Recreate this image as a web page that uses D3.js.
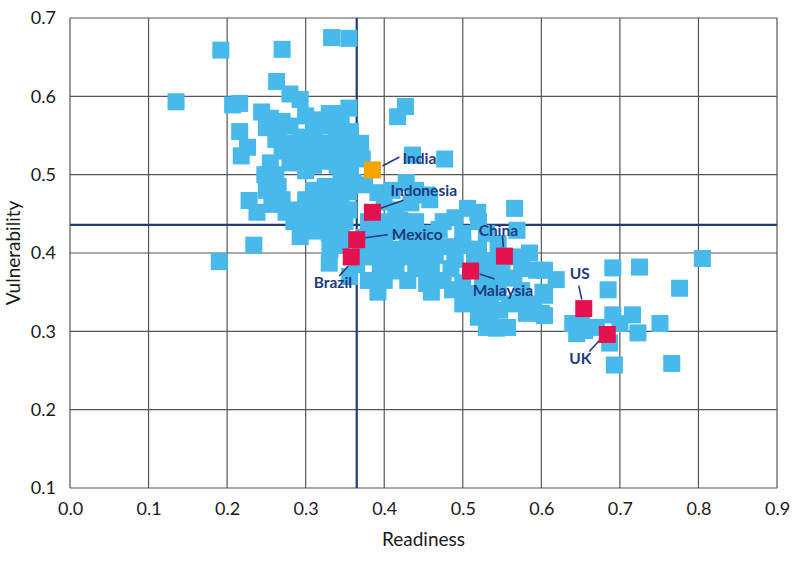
<!DOCTYPE html>
<html>
<head>
<meta charset="utf-8">
<script src="https://cdn.jsdelivr.net/npm/d3@7"></script>
<style>
body{margin:0;background:#fff;}
svg text{font-family:Lato, "Open Sans", sans-serif;}
</style>
</head>
<body>
<div id="chart"></div>
<script>
// readiness (x) / vulnerability (y) for every country
var countryX = [
 0.135,0.192,0.270,0.333,0.355,0.263,0.207,0.216,0.280,0.293,0.244,0.216,0.226,0.218,0.190,0.234,0.228,0.238,0.417,0.427,0.436,0.477,
 0.355,0.345,0.255,0.270,0.300,0.315,0.330,0.250,0.265,0.280,0.310,0.325,0.345,0.357,
 0.262,0.278,0.293,0.305,0.320,0.340,0.355,0.270,0.285,0.300,0.315,0.330,0.350,0.362,
 0.255,0.280,0.295,0.310,0.325,0.340,0.357,0.262,0.300,0.345,0.360,0.248,0.250,0.257,
 0.265,0.310,0.325,0.340,0.355,0.270,0.300,0.315,0.330,0.345,
 0.275,0.290,0.310,0.325,0.340,0.355,0.285,0.300,0.320,0.335,0.350,0.293,0.310,0.330,0.345,
 0.331,0.330,0.345,0.356,0.365,0.370,0.392,0.375,0.372,0.380,
 0.370,0.372,0.375,0.392,0.410,0.428,0.440,0.455,0.434,0.400,0.415,0.458,0.506,0.519,0.566,
 0.380,0.400,0.420,0.440,0.475,0.490,0.520,
 0.390,0.410,0.430,0.450,0.470,0.500,0.530,0.569,
 0.380,0.400,0.420,0.440,0.460,0.480,0.500,0.520,0.545,
 0.385,0.405,0.425,0.445,0.465,0.490,0.515,0.535,0.565,0.585,
 0.395,0.415,0.440,0.460,0.485,0.530,0.550,0.575,0.594,0.604,
 0.400,0.430,0.454,0.475,0.500,0.525,0.545,0.565,0.619,
 0.460,0.487,0.505,0.525,0.545,0.575,0.602,0.604,
 0.500,0.515,0.535,0.560,0.573,0.590,
 0.525,0.547,0.520,0.535,0.581,0.600,0.604,0.543,0.557,0.530,
 0.691,0.725,0.805,0.685,0.776,0.691,0.716,0.651,0.655,0.700,0.723,0.751,0.687,0.693,0.766,0.670,0.640,0.645
];
var countryY = [
 0.593,0.659,0.660,0.675,0.674,0.619,0.589,0.591,0.603,0.596,0.580,0.555,0.535,0.524,0.389,0.410,0.467,0.452,0.574,0.587,0.525,0.520,
 0.585,0.578,0.572,0.568,0.575,0.570,0.578,0.560,0.556,0.562,0.560,0.562,0.560,0.555,
 0.545,0.540,0.548,0.545,0.540,0.545,0.540,0.530,0.530,0.533,0.527,0.530,0.528,0.525,
 0.515,0.515,0.518,0.512,0.517,0.512,0.510,0.500,0.505,0.500,0.490,0.500,0.480,0.462,
 0.485,0.480,0.485,0.483,0.478,0.468,0.468,0.465,0.470,0.465,
 0.452,0.455,0.450,0.455,0.452,0.455,0.440,0.438,0.440,0.437,0.440,0.421,0.428,0.425,0.428,
 0.404,0.387,0.410,0.370,0.385,0.400,0.350,0.420,0.400,0.365,
 0.540,0.520,0.487,0.477,0.480,0.490,0.480,0.474,0.464,0.465,0.455,0.468,0.457,0.452,0.457,
 0.440,0.440,0.442,0.440,0.440,0.445,0.440,
 0.425,0.428,0.422,0.425,0.430,0.425,0.425,0.429,
 0.410,0.410,0.405,0.410,0.412,0.408,0.410,0.405,0.412,
 0.395,0.392,0.395,0.393,0.397,0.392,0.395,0.390,0.395,0.400,
 0.380,0.377,0.380,0.378,0.380,0.378,0.375,0.380,0.378,0.378,
 0.365,0.365,0.361,0.365,0.362,0.365,0.360,0.368,0.366,
 0.350,0.353,0.348,0.345,0.350,0.352,0.350,0.346,
 0.335,0.338,0.333,0.335,0.336,0.335,
 0.327,0.327,0.318,0.318,0.323,0.323,0.320,0.304,0.305,0.305,
 0.381,0.382,0.393,0.353,0.355,0.321,0.321,0.310,0.301,0.310,0.298,0.310,0.285,0.257,0.259,0.305,0.310,0.297
];

// named countries
var highlightNames = ["India","Indonesia","Mexico","Brazil","China","Malaysia","US","UK"];
var highlightX = [0.385,0.385,0.365,0.358,0.553,0.510,0.654,0.684];
var highlightY = [0.506,0.452,0.417,0.395,0.396,0.377,0.329,0.296];

var xTicks = [0.0,0.1,0.2,0.3,0.4,0.5,0.6,0.7,0.8,0.9];
var yTicks = [0.1,0.2,0.3,0.4,0.5,0.6,0.7];
var readinessAvg = 0.365;
var vulnerabilityAvg = 0.436;

// label layout, pixel offsets from the marker
var labelPos = {
  "India":    {l1:[10,-4], l2:[27,-13], t:[30,-6], a:"start"},
  "Indonesia":{l1:[8,-4],  l2:[31,-12], t:[18,-16], a:"start"},
  "Mexico":   {l1:[8,-2],  l2:[31,-5],  t:[35,0],  a:"start"},
  "Brazil":   {l1:[-3,9],  l2:[-12,19], t:[1,31],  a:"end"},
  "China":    {l1:[-1,-9], l2:[-2,-20], t:[-6,-20], a:"middle"},
  "Malaysia": {l1:[9,3],   l2:[24,8],   t:[2,25],  a:"start"},
  "US":       {l1:[-2,-9], l2:[-5,-23], t:[-4,-30], a:"middle"},
  "UK":       {l1:[-8,6],  l2:[-18,17], t:[-27,30], a:"middle"}
};

function draw(){
    var width = 800, height = 581;
    var padL = 70, padR = 777, padT = 18, padB = 488;
    var sq = 17;
    var navy = "#1f3a7e";

    var svg = d3.select("#chart").append("svg").attr("width",width).attr("height",height);

    var x = d3.scaleLinear().domain([0,0.9]).range([padL,padR]);
    var y = d3.scaleLinear().domain([0.1,0.7]).range([padB,padT]);

    // grid
    svg.append("g").selectAll("line").data(xTicks).enter().append("line")
        .attr("x1",function(d){return x(d);}).attr("x2",function(d){return x(d);})
        .attr("y1",padT).attr("y2",padB)
        .attr("stroke","#555").attr("stroke-width",1.2);
    svg.append("g").selectAll("line").data(yTicks).enter().append("line")
        .attr("y1",function(d){return y(d);}).attr("y2",function(d){return y(d);})
        .attr("x1",padL).attr("x2",padR)
        .attr("stroke","#555").attr("stroke-width",1.2);

    // axes (labels only)
    var xAxis = svg.append("g").attr("transform","translate(0,"+padB+")")
        .call(d3.axisBottom(x).tickValues(xTicks).tickFormat(d3.format(".1f")).tickSize(0).tickPadding(14));
    var yAxis = svg.append("g").attr("transform","translate("+padL+",0)")
        .call(d3.axisLeft(y).tickValues(yTicks).tickFormat(d3.format(".1f")).tickSize(0).tickPadding(14));
    [xAxis,yAxis].forEach(function(a){
        a.select(".domain").remove();
        a.selectAll("text").attr("font-size",18).attr("fill","#1a1a1a")
            .style("font-family","Lato, sans-serif");
    });

    // average lines
    svg.append("line").attr("x1",x(readinessAvg)).attr("x2",x(readinessAvg))
        .attr("y1",padT).attr("y2",padB).attr("stroke",navy).attr("stroke-width",2.2);
    svg.append("line").attr("x1",padL).attr("x2",padR)
        .attr("y1",y(vulnerabilityAvg)).attr("y2",y(vulnerabilityAvg))
        .attr("stroke",navy).attr("stroke-width",2.2);

    // all countries
    var pts = [];
    for(var i=0;i<countryX.length;i++){
        pts.push({x:countryX[i], y:countryY[i]});
    }
    svg.append("g").selectAll("rect").data(pts).enter().append("rect")
        .attr("x",function(d){return x(d.x)-sq/2;})
        .attr("y",function(d){return y(d.y)-sq/2;})
        .attr("width",sq).attr("height",sq)
        .attr("fill","#47b9ea");

    // named countries
    var hl = [];
    for(var j=0;j<highlightNames.length;j++){
        hl.push({name:highlightNames[j], x:highlightX[j], y:highlightY[j]});
    }
    var lab = svg.append("g");
    hl.forEach(function(d){
        var p = labelPos[d.name];
        var px = x(d.x), py = y(d.y);
        lab.append("line")
            .attr("x1",px+p.l1[0]).attr("y1",py+p.l1[1])
            .attr("x2",px+p.l2[0]).attr("y2",py+p.l2[1])
            .attr("stroke",navy).attr("stroke-width",1.6);
        lab.append("text")
            .attr("x",px+p.t[0]).attr("y",py+p.t[1])
            .attr("text-anchor",p.a)
            .attr("font-size",15.5).attr("font-weight","bold")
            .attr("fill",navy)
            .text(d.name);
    });
    svg.append("g").selectAll("rect").data(hl).enter().append("rect")
        .attr("x",function(d){return x(d.x)-sq/2;})
        .attr("y",function(d){return y(d.y)-sq/2;})
        .attr("width",sq).attr("height",sq)
        .attr("fill",function(d){return d.name=="India" ? "#f5a400" : "#e3124f";});

    // titles
    svg.append("text").attr("x",(padL+padR)/2).attr("y",546)
        .attr("text-anchor","middle").attr("font-size",19)
        .attr("fill","#1a1a1a").text("Readiness");
    svg.append("text").attr("transform","translate(20,"+((padT+padB)/2)+") rotate(-90)")
        .attr("text-anchor","middle").attr("font-size",19)
        .attr("fill","#1a1a1a").text("Vulnerability");
}
draw();
</script>
</body>
</html>
